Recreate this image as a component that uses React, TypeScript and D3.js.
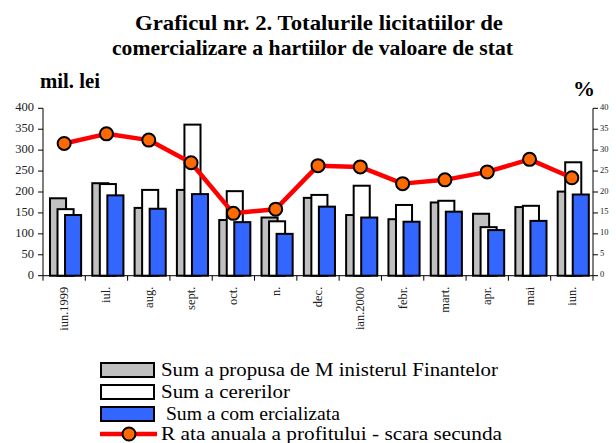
import React from "react";
import * as d3 from "d3";

const categories = ["iun.1999", "iul.", "aug.", "sept.", "oct.", "n.", "dec.", "ian.2000", "febr.", "mart.", "apr.", "mai", "iun."];
const propusa = [185, 221, 162, 205, 133, 139, 186, 145, 135, 175, 148, 164, 201];
const cereri = [159, 219, 205, 361, 202, 130, 193, 215, 169, 179, 116, 167, 271];
const comercializata = [145, 192, 160, 195, 128, 100, 165, 139, 129, 153, 109, 131, 194];
const rata = [31.6, 33.9, 32.4, 27.0, 14.9, 15.9, 26.3, 26.0, 22.0, 22.9, 24.8, 27.8, 23.4];
const leftTicks = [0, 50, 100, 150, 200, 250, 300, 350, 400];
const rightTicks = [0, 5, 10, 15, 20, 25, 30, 35, 40];
const legendLabels = [
  "Sum a propusa de M inisterul Finantelor",
  "Sum a cererilor",
  " Sum a com ercializata",
  "R ata anuala a profitului - scara secunda",
];

const W = 616, H = 443;
const M = { left: 43, right: 593, top: 108.3, bottom: 275.7 };
const serif = "Liberation Serif, Times New Roman, serif";
const GRAY = "#c0c0c0", BLUE = "#3366ff", RED = "#ff0000", ORANGE = "#ff6a00";

export default function App() {
  const x = d3.scaleBand<string>().domain(categories).range([M.left, M.right]).padding(0);
  const y = d3.scaleLinear().domain([0, 400]).range([M.bottom, M.top]);
  const y2 = d3.scaleLinear().domain([0, 40]).range([M.bottom, M.top]);
  const bw = x.bandwidth();
  const barW = bw * 0.38;
  const off0 = bw * 0.165;
  const step = bw * 0.178;
  const series = [
    { vals: propusa, fill: GRAY },
    { vals: cereri, fill: "#ffffff" },
    { vals: comercializata, fill: BLUE },
  ];
  const line = d3
    .line<number>()
    .x((_, i) => (x(categories[i]) as number) + bw / 2)
    .y((d) => y2(d));
  const legendW = [337, 129, 179, 341];
  const legendY = [370, 392, 414, 434];

  return (
    <svg width={W} height={H} style={{ position: "absolute", left: 0, top: 0, background: "#fff" }} fontFamily={serif}>
      <text x={135} y={29.5} fontWeight="bold" fontSize={22} fontFamily={serif} textLength={368} lengthAdjust="spacingAndGlyphs">Graficul nr. 2. Totalurile licitatiilor de</text>
      <text x={112} y={54.5} fontWeight="bold" fontSize={22} fontFamily={serif} textLength={401} lengthAdjust="spacingAndGlyphs">comercializare a hartiilor de valoare de stat</text>
      <text x={40} y={87.5} fontWeight="bold" fontSize={21} fontFamily={serif} textLength={60} lengthAdjust="spacingAndGlyphs">mil. lei</text>
      <text x={573} y={96} fontWeight="bold" fontSize={22} fontFamily={serif}>%</text>

      {series.map((s, si) =>
        s.vals.map((v, i) => (
          <rect
            key={si + "-" + i}
            x={(x(categories[i]) as number) + off0 + si * step}
            y={y(v)}
            width={barW}
            height={M.bottom - y(v)}
            fill={s.fill}
            stroke="#000"
            strokeWidth={2}
          />
        ))
      )}

      {/* left axis */}
      <line x1={M.left} x2={M.left} y1={M.top} y2={M.bottom} stroke="#000" strokeWidth={1} />
      {leftTicks.map((t) => (
        <g key={"l" + t}>
          <line x1={M.left - 5} x2={M.left} y1={y(t)} y2={y(t)} stroke="#000" />
          <text x={34} y={y(t) + 3} textAnchor="end" fontSize={12.5} fill="#222">{t}</text>
        </g>
      ))}
      {/* right axis */}
      <line x1={M.right} x2={M.right} y1={M.top} y2={M.bottom} stroke="#000" strokeWidth={1} />
      {rightTicks.map((t) => (
        <g key={"r" + t}>
          <line x1={M.right} x2={M.right + 5} y1={y2(t)} y2={y2(t)} stroke="#000" />
          <text x={M.right + 7} y={y2(t) + 1.5} fontSize={8.5} fill="#222">{t}</text>
        </g>
      ))}
      {/* bottom axis */}
      <line x1={M.left} x2={M.right} y1={M.bottom} y2={M.bottom} stroke="#000" strokeWidth={1} />
      {categories.map((c, i) => (
        <g key={"b" + c}>
          <line x1={x(c) as number} x2={x(c) as number} y1={M.bottom} y2={M.bottom + 5} stroke="#000" />
          <text
            transform={`translate(${(x(c) as number) + bw / 2 + 4},${M.bottom + 11}) rotate(-90)`}
            textAnchor="end"
            fontSize={12.5}
            fill="#222"
          >
            {c}
          </text>
        </g>
      ))}
      <line x1={M.right} x2={M.right} y1={M.bottom} y2={M.bottom + 5} stroke="#000" />

      <path d={line(rata) || ""} fill="none" stroke={RED} strokeWidth={4.5} strokeLinejoin="round" />
      {rata.map((v, i) => (
        <circle key={"m" + i} cx={(x(categories[i]) as number) + bw / 2} cy={y2(v)} r={6.5} fill={ORANGE} stroke="#000" strokeWidth={2} />
      ))}

      {/* legend */}
      {[GRAY, "#ffffff", BLUE].map((f, i) => (
        <rect key={"lg" + i} x={101} y={legendY[i] - 7} width={53} height={14} fill={f} stroke="#000" strokeWidth={2} />
      ))}
      <line x1={100} x2={157} y1={legendY[3]} y2={legendY[3]} stroke={RED} strokeWidth={4.5} />
      <circle cx={129} cy={legendY[3]} r={6.5} fill={ORANGE} stroke="#000" strokeWidth={2} />
      {legendLabels.map((l, i) => (
        <text
          key={"lt" + i}
          x={161}
          y={legendY[i] + 6}
          fontSize={19}
          textLength={legendW[i]}
          lengthAdjust="spacingAndGlyphs"
          style={{ whiteSpace: "pre" }}
        >
          {l}
        </text>
      ))}
    </svg>
  );
}
